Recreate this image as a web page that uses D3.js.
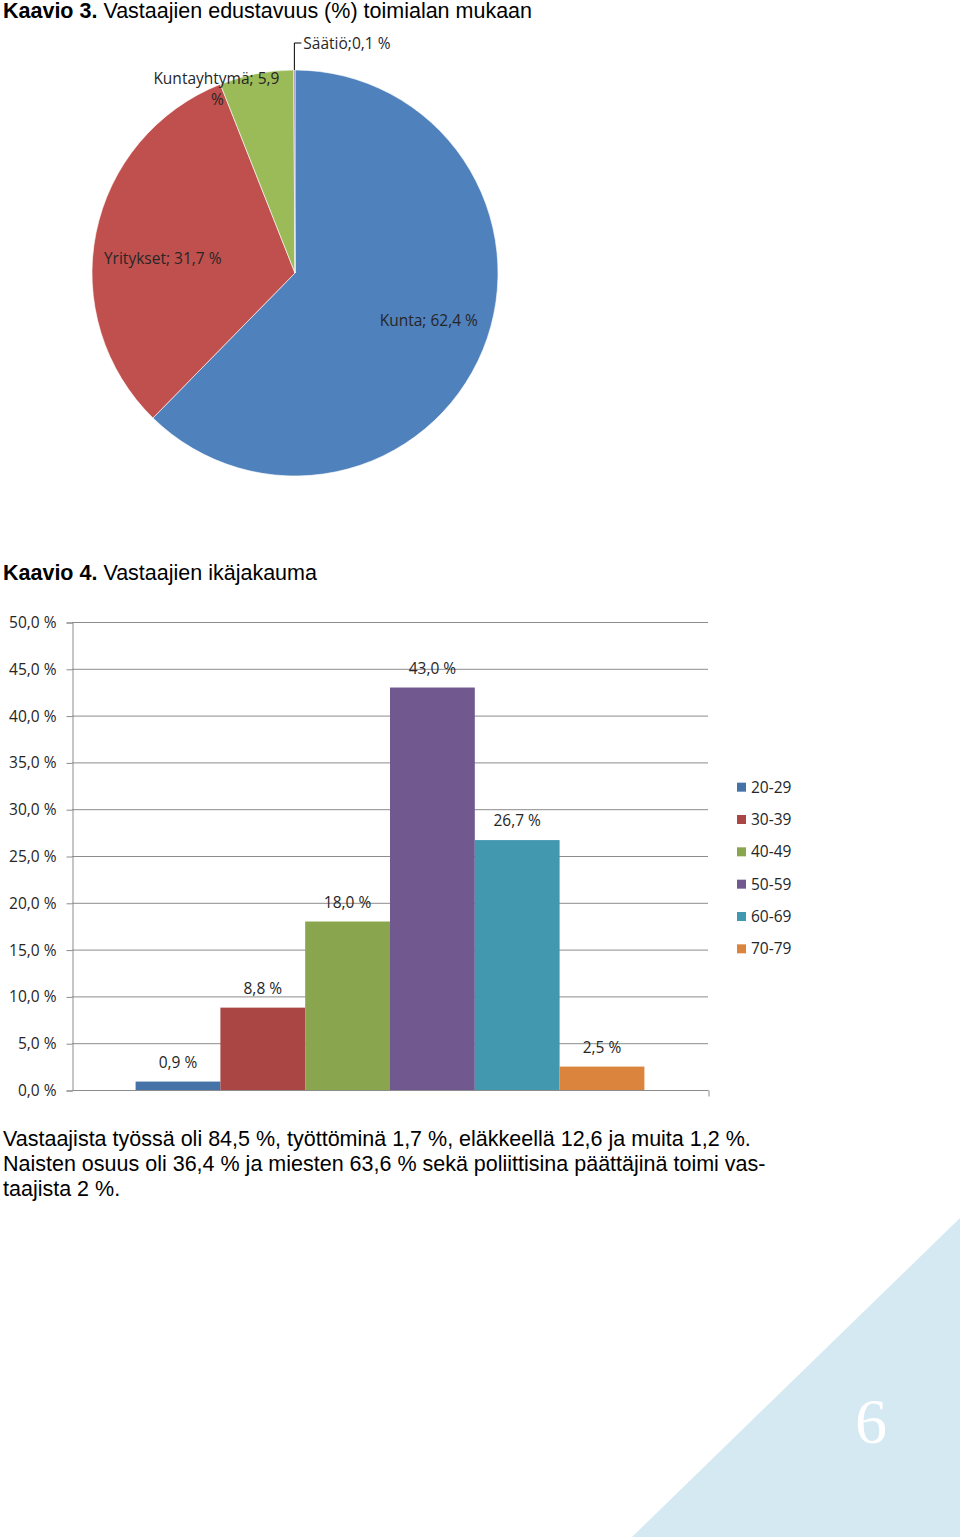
<!DOCTYPE html>
<html><head><meta charset="utf-8">
<script src="https://cdn.jsdelivr.net/npm/d3@7"></script>
<style>
html,body{margin:0;padding:0;background:#fff;}
svg{display:block;}
</style></head>
<body>
<svg id="page" width="960" height="1537"></svg>
<script>
// ---- data ----
const pieLabels = ["Kunta", "Yritykset", "Kuntayhtymä", "Säätiö"];
const pieValues = [62.4, 31.7, 5.9, 0.1];
const pieColors = ["#4f81bd", "#c0504d", "#9bbb59", "#8064a2"];

const ageGroups = ["20-29", "30-39", "40-49", "50-59", "60-69", "70-79"];
const ageValues = [0.9, 8.8, 18.0, 43.0, 26.7, 2.5];
const ageColors = ["#4572a7", "#aa4643", "#89a54e", "#71588f", "#4198af", "#db843d"];
const yTicks = [0, 5, 10, 15, 20, 25, 30, 35, 40, 45, 50];

const title3Bold = "Kaavio 3.";
const title3 = " Vastaajien edustavuus (%) toimialan mukaan";
const title4Bold = "Kaavio 4.";
const title4 = " Vastaajien ikäjakauma";
const paragraph = [
  "Vastaajista työssä oli 84,5 %, työttöminä 1,7 %, eläkkeellä 12,6 ja muita 1,2 %.",
  "Naisten osuus oli 36,4 % ja miesten 63,6 % sekä poliittisina päättäjinä toimi vas-",
  "taajista 2 %."
];
const pageNumber = "6";

(function () {
const svg = d3.select("#page");
const fmt = v => d3.format(".1f")(v).replace(".", ",") + " %";
const chartFont = "'Open Sans', 'DejaVu Sans', sans-serif";
const bodyFont = "'Liberation Sans', Arial, sans-serif";
const textCol = "#262626";

// page corner triangle
svg.append("path")
  .attr("d", d3.line()([[632, 1537], [960, 1218], [960, 1537]]))
  .attr("fill", "#d4e9f2");
svg.append("text").attr("x", 871).attr("y", 1443)
  .attr("text-anchor", "middle")
  .attr("font-family", "'Liberation Serif', 'DejaVu Serif', serif")
  .attr("font-size", 64).attr("fill", "#ffffff").text(pageNumber);

// titles
function title(yy, b, r) {
  const t = svg.append("text").attr("x", 3).attr("y", yy)
    .attr("font-family", bodyFont).attr("font-size", 21.5).attr("fill", "#000");
  t.append("tspan").attr("font-weight", "bold").text(b);
  t.append("tspan").text(r);
}
title(18, title3Bold, title3);
title(580, title4Bold, title4);

// ---- pie ----
const cx = 295, cy = 273, R = 203;
const pie = d3.pie().sort(null).value(d => d)(pieValues);
const arc = d3.arc().innerRadius(0).outerRadius(R);
const gPie = svg.append("g").attr("transform", `translate(${cx},${cy})`);
gPie.selectAll("path").data(pie).join("path")
  .attr("d", arc).attr("fill", (d, i) => pieColors[i])
  .attr("stroke", "#ffffff").attr("stroke-width", 0.6);

const labelArc = d3.arc().innerRadius(R * 0.68).outerRadius(R * 0.68);
const labelShift = [[6, -5], [3, 13]];
const pieText = gPie.append("g").attr("font-family", chartFont)
  .attr("font-size", 15.5).attr("fill", textCol);
[0, 1].forEach(i => {
  const c = labelArc.centroid(pie[i]);
  pieText.append("text").attr("x", c[0] + labelShift[i][0]).attr("y", c[1] + labelShift[i][1])
    .attr("text-anchor", "middle").attr("dy", "0.35em")
    .text(pieLabels[i] + "; " + fmt(pieValues[i]));
});
{
  const c = d3.arc().innerRadius(R).outerRadius(R).centroid(pie[2]);
  const t = pieText.append("text").attr("x", c[0] - 40).attr("y", c[1] + 10)
    .attr("text-anchor", "middle");
  t.append("tspan").text(pieLabels[2] + "; " + d3.format(".1f")(pieValues[2]).replace(".", ","));
  t.append("tspan").attr("x", c[0] - 39).attr("dy", 21).text("%");
}
{
  const a = (pie[3].startAngle + pie[3].endAngle) / 2;
  const px = Math.sin(a) * R, py = -Math.cos(a) * R;
  gPie.append("path")
    .attr("d", d3.line()([[px, py], [px, py - 27], [px + 7, py - 27]]))
    .attr("fill", "none").attr("stroke", "#000").attr("stroke-width", 1);
  pieText.append("text").attr("x", px + 9).attr("y", py - 21)
    .text(pieLabels[3] + ";" + fmt(pieValues[3]));
}

// ---- bar chart ----
const pLeft = 72, pRight = 708, pTop = 622, pBottom = 1090;
const y = d3.scaleLinear().domain([0, 50]).range([pBottom, pTop]);
const x0 = d3.scaleBand().domain(["ikä"]).range([pLeft, pRight]).paddingInner(0).paddingOuter(0.125);
const x1 = d3.scaleBand().domain(ageGroups).range([0, x0.bandwidth()]).padding(0);

const gBar = svg.append("g");
gBar.append("g").selectAll("line").data(yTicks.slice(1)).join("line")
  .attr("x1", pLeft).attr("x2", pRight)
  .attr("y1", d => y(d) + 0.5).attr("y2", d => y(d) + 0.5)
  .attr("stroke", "#8c8c8c").attr("stroke-width", 1);

const yAxis = d3.axisLeft(y).tickValues(yTicks).tickSize(6).tickPadding(10).tickFormat(fmt);
const gy = gBar.append("g").attr("transform", `translate(${pLeft + 0.5},0.5)`).call(yAxis);
gy.select(".domain").attr("stroke", "#8c8c8c");
gy.selectAll(".tick line").attr("stroke", "#8c8c8c");
gy.selectAll(".tick text").attr("font-family", chartFont).attr("font-size", 15.5)
  .attr("fill", textCol);

const xAxis = d3.axisBottom(d3.scaleLinear().domain([0, 1]).range([pLeft, pRight]))
  .tickValues([1]).tickSize(6).tickFormat("");
const gx = gBar.append("g").attr("transform", `translate(0.5,${pBottom + 0.5})`).call(xAxis);
gx.select(".domain").attr("stroke", "#8c8c8c").attr("d", `M${pLeft},0H${pRight}`);
gx.selectAll(".tick line").attr("stroke", "#8c8c8c");

const gGroup = gBar.append("g").attr("transform", `translate(${x0("ikä")},0)`);
gGroup.selectAll("rect").data(ageValues).join("rect")
  .attr("x", (d, i) => x1(ageGroups[i]))
  .attr("width", x1.bandwidth())
  .attr("y", d => y(d))
  .attr("height", d => y(0) - y(d))
  .attr("fill", (d, i) => ageColors[i]);
gGroup.selectAll("text").data(ageValues).join("text")
  .attr("x", (d, i) => x1(ageGroups[i]) + x1.bandwidth() / 2)
  .attr("y", d => y(d) - 14)
  .attr("text-anchor", "middle")
  .attr("font-family", chartFont).attr("font-size", 15.5).attr("fill", textCol)
  .text(fmt);

// legend
const leg = d3.scaleBand().domain(ageGroups).range([771, 965]);
const li = svg.append("g").selectAll("g").data(ageGroups).join("g")
  .attr("transform", d => `translate(737,${leg(d) + leg.bandwidth() / 2})`);
li.append("rect").attr("x", 0).attr("y", -4.5).attr("width", 9).attr("height", 9)
  .attr("fill", (d, i) => ageColors[i]);
li.append("text").attr("x", 14).attr("y", 0).attr("dy", "0.35em")
  .attr("font-family", chartFont).attr("font-size", 15.5).attr("fill", textCol)
  .text(d => d);

// paragraph
svg.append("g").selectAll("text").data(paragraph).join("text")
  .attr("x", 3).attr("y", (d, i) => 1146 + i * 25)
  .attr("font-family", bodyFont).attr("font-size", 21.5).attr("fill", "#000")
  .text(d => d);
})();
</script>
</body></html>
